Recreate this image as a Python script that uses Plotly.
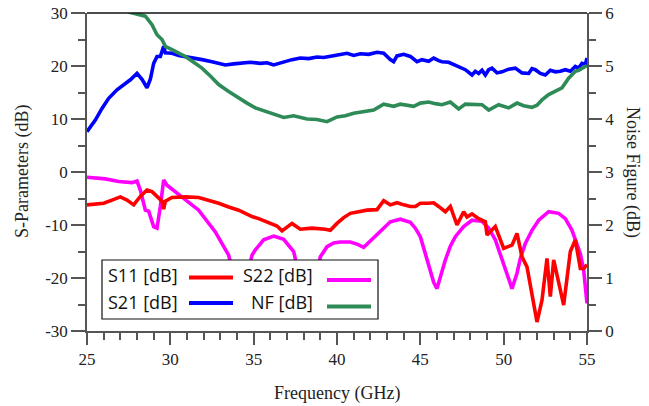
import plotly.graph_objects as go

# ---------------- data ----------------
s21_f = [25.0, 25.5, 25.9, 26.3, 26.8, 27.3, 27.6, 28.0, 28.3, 28.6, 28.8, 29.0, 29.2, 29.4, 29.6, 29.7,
         30.1, 30.5, 30.9, 31.4, 31.9, 32.5, 33.3, 33.8, 34.3, 34.8, 35.4, 35.8, 36.2, 36.8, 37.3, 37.8,
         38.3, 38.8, 39.2, 39.7, 40.1, 40.6, 41.0, 41.4, 41.9, 42.4, 42.8, 43.0, 43.2, 43.4, 43.6, 44.0,
         44.4, 44.8, 45.1, 45.5, 45.8, 46.1, 46.3, 46.7, 47.1, 47.4, 47.7, 48.1, 48.3, 48.5, 48.7, 48.9,
         49.1, 49.3, 49.6, 49.9, 50.3, 50.7, 51.1, 51.5, 51.7, 51.9, 52.2, 52.5, 52.8, 53.1, 53.4, 53.7,
         54.0, 54.3, 54.5, 54.7, 54.9, 55.0]
s21_db = [7.6, 9.8, 12.0, 13.9, 15.5, 16.7, 17.4, 18.6, 17.5, 15.9, 17.5, 20.5, 21.8, 21.8, 23.7, 22.5,
          22.4, 22.0, 21.8, 21.5, 21.2, 20.8, 20.2, 20.4, 20.5, 20.7, 20.5, 20.6, 20.2, 20.8, 21.2, 21.5,
          21.4, 21.7, 21.6, 21.9, 22.1, 22.4, 22.0, 22.3, 22.2, 22.6, 22.4, 21.7, 21.2, 20.8, 21.9, 22.2,
          21.8, 20.8, 21.2, 20.9, 21.5, 21.0, 20.8, 20.7, 20.2, 19.8, 19.3, 18.3, 19.0, 18.6, 19.2, 18.3,
          19.3, 19.6, 18.7, 18.9, 19.4, 19.6, 18.7, 18.6, 19.5, 19.3, 18.6, 18.3, 19.2, 18.9, 19.0, 19.3,
          19.0, 19.9, 19.6, 20.5, 20.3, 21.5]

nf_f = [27.5, 28.1, 28.5, 28.9, 29.2, 29.5, 29.7, 30.1, 30.5, 30.9, 31.4, 31.9, 32.4, 32.9, 33.5,
        34.1, 34.6, 35.1, 35.8, 36.4, 36.8, 37.4, 38.2, 38.8, 39.4, 40.0, 40.5, 41.0, 41.6, 42.2, 42.8,
        43.4, 43.8, 44.2, 44.6, 45.0, 45.5, 45.9, 46.3, 46.8, 47.3, 47.7, 48.2, 48.7, 49.1, 49.4, 49.7,
        50.3, 50.8, 51.2, 51.7, 52.0, 52.3, 52.7, 53.1, 53.5, 53.9, 54.3, 54.5, 54.7, 55.0]
nf_db = [6.02, 5.97, 5.94, 5.78, 5.59, 5.50, 5.37, 5.31, 5.25, 5.18, 5.07, 4.96, 4.81, 4.65, 4.52,
         4.39, 4.30, 4.21, 4.14, 4.08, 4.03, 4.06, 4.00, 3.99, 3.95, 4.04, 4.06, 4.11, 4.14, 4.17, 4.28,
         4.24, 4.28, 4.26, 4.24, 4.30, 4.32, 4.29, 4.27, 4.32, 4.19, 4.28, 4.27, 4.27, 4.17, 4.23, 4.27,
         4.21, 4.30, 4.25, 4.22, 4.26, 4.36, 4.46, 4.52, 4.59, 4.77, 4.90, 4.92, 4.96, 5.01]

s11_f = [25.0, 26.0, 26.5, 27.0, 27.4, 27.8, 28.2, 28.6, 28.9, 29.3, 29.5, 29.6, 29.7, 30.1, 30.9,
         31.7, 32.3, 32.9, 33.5, 34.1, 34.5, 34.9, 35.3, 35.6, 36.0, 36.4, 36.7, 37.0, 37.3, 37.8, 38.5,
         39.3, 39.6, 40.0, 40.4, 40.8, 41.3, 41.8, 42.4, 42.8, 43.2, 43.6, 44.0, 44.4, 44.7, 45.0, 45.5,
         45.8, 46.1, 46.5, 46.8, 47.2, 47.6, 47.8, 48.1, 48.5, 48.9, 49.0, 49.5, 50.0, 50.5, 50.8, 51.1,
         51.4, 52.0, 52.3, 52.6, 52.8, 53.0, 53.6, 54.0, 54.3, 54.6, 54.8, 55.0]
s11_db = [-6.2, -5.9, -5.3, -4.7, -5.3, -6.2, -4.6, -3.4, -3.7, -5.0, -5.5, -7.0, -5.5, -4.8, -4.7,
          -4.8, -5.3, -5.9, -6.6, -7.2, -7.8, -8.4, -8.8, -9.2, -9.7, -10.2, -11.1, -10.4, -9.7, -10.8, -10.6,
          -10.8, -11.0, -9.7, -8.6, -7.8, -7.5, -7.2, -7.1, -5.4, -6.2, -5.8, -6.2, -6.5, -6.5, -5.9, -5.9,
          -5.8, -6.5, -7.5, -6.5, -10.0, -7.5, -8.5, -7.9, -8.8, -9.4, -11.9, -10.3, -14.4, -13.8, -11.6, -16.0,
          -17.9, -28.3, -24.2, -16.3, -23.5, -16.6, -25.1, -15.0, -12.8, -18.2, -18.2, -17.5]

s22_f = [25.0, 26.1, 26.9, 27.7, 28.0, 28.2, 28.5, 28.7, 29.0, 29.2, 29.4, 29.6, 29.8, 30.7, 31.7,
         32.7, 33.5, 34.0, 34.3, 34.9, 35.1, 35.6, 36.2, 36.8, 37.4, 37.9, 38.5, 39.0, 39.4, 39.8, 40.2,
         40.8, 41.2, 41.6, 42.0, 42.4, 42.8, 43.2, 43.8, 44.4, 44.7, 45.0, 45.3, 45.6, 45.8, 46.0, 46.2,
         46.5, 46.8, 47.1, 47.6, 48.1, 48.7, 49.1, 49.5, 49.8, 50.1, 50.3, 50.5, 50.8, 51.0, 51.3, 51.7,
         52.1, 52.7, 53.3, 53.7, 54.1, 54.4, 54.6, 54.8, 55.0]
s22_db = [-1.0, -1.3, -1.8, -2.0, -1.7, -3.4, -7.2, -7.4, -10.3, -10.6, -6.5, -1.5, -2.5, -4.7, -7.2,
          -11.3, -15.7, -22.0, -24.0, -15.7, -14.7, -12.8, -12.1, -12.7, -15.0, -22.0, -24.0, -16.0, -14.1, -13.4, -13.2,
          -13.2, -13.6, -14.2, -13.0, -11.6, -10.4, -9.4, -8.9, -9.5, -10.6, -12.2, -15.4, -18.8, -20.8, -22.0, -19.8,
          -16.6, -14.0, -12.2, -10.3, -9.1, -9.3, -10.6, -12.8, -15.5, -18.5, -20.5, -22.0, -19.1, -16.3, -13.5, -11.0,
          -9.1, -7.5, -7.8, -8.8, -11.0, -13.4, -15.4, -18.5, -24.8]

x_ticks = [25, 30, 35, 40, 45, 50, 55]
y_ticks = [-30, -20, -10, 0, 10, 20, 30]
y_tick_text = ["-30", "-20", "-10", "0", "10", "20", "30"]
y2_ticks = [0, 1, 2, 3, 4, 5, 6]

legend_names = ["S11 [dB]", "S21 [dB]", "S22 [dB]", "NF [dB]"]
colors = {"S11": "#ff0000", "S21": "#0000ff", "S22": "#ff00ff", "NF": "#2e8b57"}

# ---------------- figure ----------------
W, H = 649, 406
L, R, T, B = 87, 62, 13, 75
pw, ph = W - L - R, H - T - B


def px(xp):
    return (xp - L) / pw


def py(yp):
    return (H - B - yp) / ph


fig = go.Figure()
lw = 3.6
fig.add_trace(go.Scatter(x=s21_f, y=s21_db, mode="lines", line=dict(color=colors["S21"], width=lw),
                         name="S21", showlegend=False))
fig.add_trace(go.Scatter(x=nf_f, y=nf_db, mode="lines", line=dict(color=colors["NF"], width=lw),
                         name="NF", yaxis="y2", showlegend=False))
fig.add_trace(go.Scatter(x=s22_f, y=s22_db, mode="lines", line=dict(color=colors["S22"], width=lw),
                         name="S22", showlegend=False))
fig.add_trace(go.Scatter(x=s11_f, y=s11_db, mode="lines", line=dict(color=colors["S11"], width=lw),
                         name="S11", showlegend=False))

tickfont = dict(family="Liberation Serif", size=17, color="#222")
axcol = "#555"

fig.update_layout(
    width=W, height=H, margin=dict(l=L, r=R, t=T, b=B, autoexpand=False),
    paper_bgcolor="white", plot_bgcolor="white",
    xaxis=dict(range=[25, 55], tickvals=x_ticks, ticks="outside", ticklen=12, tickwidth=1.5,
               tickcolor=axcol, showline=True, linecolor=axcol, linewidth=1.5, mirror=False,
               showgrid=False, zeroline=False, tickfont=tickfont,
               minor=dict(dtick=1, ticks="outside", ticklen=7, tickcolor=axcol, tickwidth=1.5, showgrid=False)),
    yaxis=dict(range=[-30, 30], tickvals=y_ticks, ticktext=y_tick_text, ticks="outside", ticklen=14,
               tickwidth=1.5, tickcolor=axcol, showline=True, linecolor=axcol, linewidth=1.5,
               showgrid=False, zeroline=False, tickfont=tickfont,
               minor=dict(dtick=5, ticks="outside", ticklen=7, tickcolor=axcol, tickwidth=1.5, showgrid=False)),
    yaxis2=dict(range=[0, 6], tickvals=y2_ticks, overlaying="y", side="right", ticks="outside", ticklen=13,
                tickwidth=1.5, tickcolor=axcol, showline=True, linecolor=axcol, linewidth=1.5,
                showgrid=False, zeroline=False, tickfont=tickfont,
                minor=dict(dtick=0.5, ticks="outside", ticklen=7, tickcolor=axcol, tickwidth=1.5, showgrid=False)),
    showlegend=False,
)

shapes = []
# top border
shapes.append(dict(type="line", xref="paper", yref="paper", x0=0, x1=1, y0=1, y1=1,
                   line=dict(color="#111", width=1.5), layer="above"))
# legend box
shapes.append(dict(type="rect", xref="paper", yref="paper", x0=px(102), x1=px(378), y0=py(319), y1=py(260),
                   fillcolor="white", line=dict(color="#111", width=1.2), layer="above"))
leg_lines = [(189, 233, 277.5, colors["S11"]), (189, 233, 303, colors["S21"]),
             (327, 371, 280, colors["S22"]), (327, 371, 306.5, colors["NF"])]
for x0, x1, yy, c in leg_lines:
    shapes.append(dict(type="line", xref="paper", yref="paper", x0=px(x0), x1=px(x1), y0=py(yy), y1=py(yy),
                       line=dict(color=c, width=4), layer="above"))
fig.update_layout(shapes=shapes)

legfont = dict(family="Open Sans", size=18, color="#111")
ann = []
ann.append(dict(text=legend_names[0], x=px(106), y=py(275), xref="paper", yref="paper", xanchor="left",
                yanchor="middle", showarrow=False, font=legfont))
ann.append(dict(text=legend_names[1], x=px(106), y=py(302), xref="paper", yref="paper", xanchor="left",
                yanchor="middle", showarrow=False, font=legfont))
ann.append(dict(text=legend_names[2], x=px(315), y=py(275), xref="paper", yref="paper", xanchor="right",
                yanchor="middle", showarrow=False, font=legfont))
ann.append(dict(text=legend_names[3], x=px(315), y=py(302), xref="paper", yref="paper", xanchor="right",
                yanchor="middle", showarrow=False, font=legfont))
titlefont = dict(family="Liberation Serif", size=18, color="#222")
ann.append(dict(text="S-Parameters (dB)", x=px(22), y=py(172), xref="paper", yref="paper", textangle=-90,
                xanchor="center", yanchor="middle", showarrow=False, font=titlefont))
ann.append(dict(text="Noise Figure (dB)", x=px(633), y=py(172), xref="paper", yref="paper", textangle=90,
                xanchor="center", yanchor="middle", showarrow=False, font=titlefont))
ann.append(dict(text="Frequency (GHz)", x=px(337), y=py(393), xref="paper", yref="paper",
                xanchor="center", yanchor="middle", showarrow=False, font=titlefont))
fig.update_layout(annotations=ann)

fig.write_html("out.html")
